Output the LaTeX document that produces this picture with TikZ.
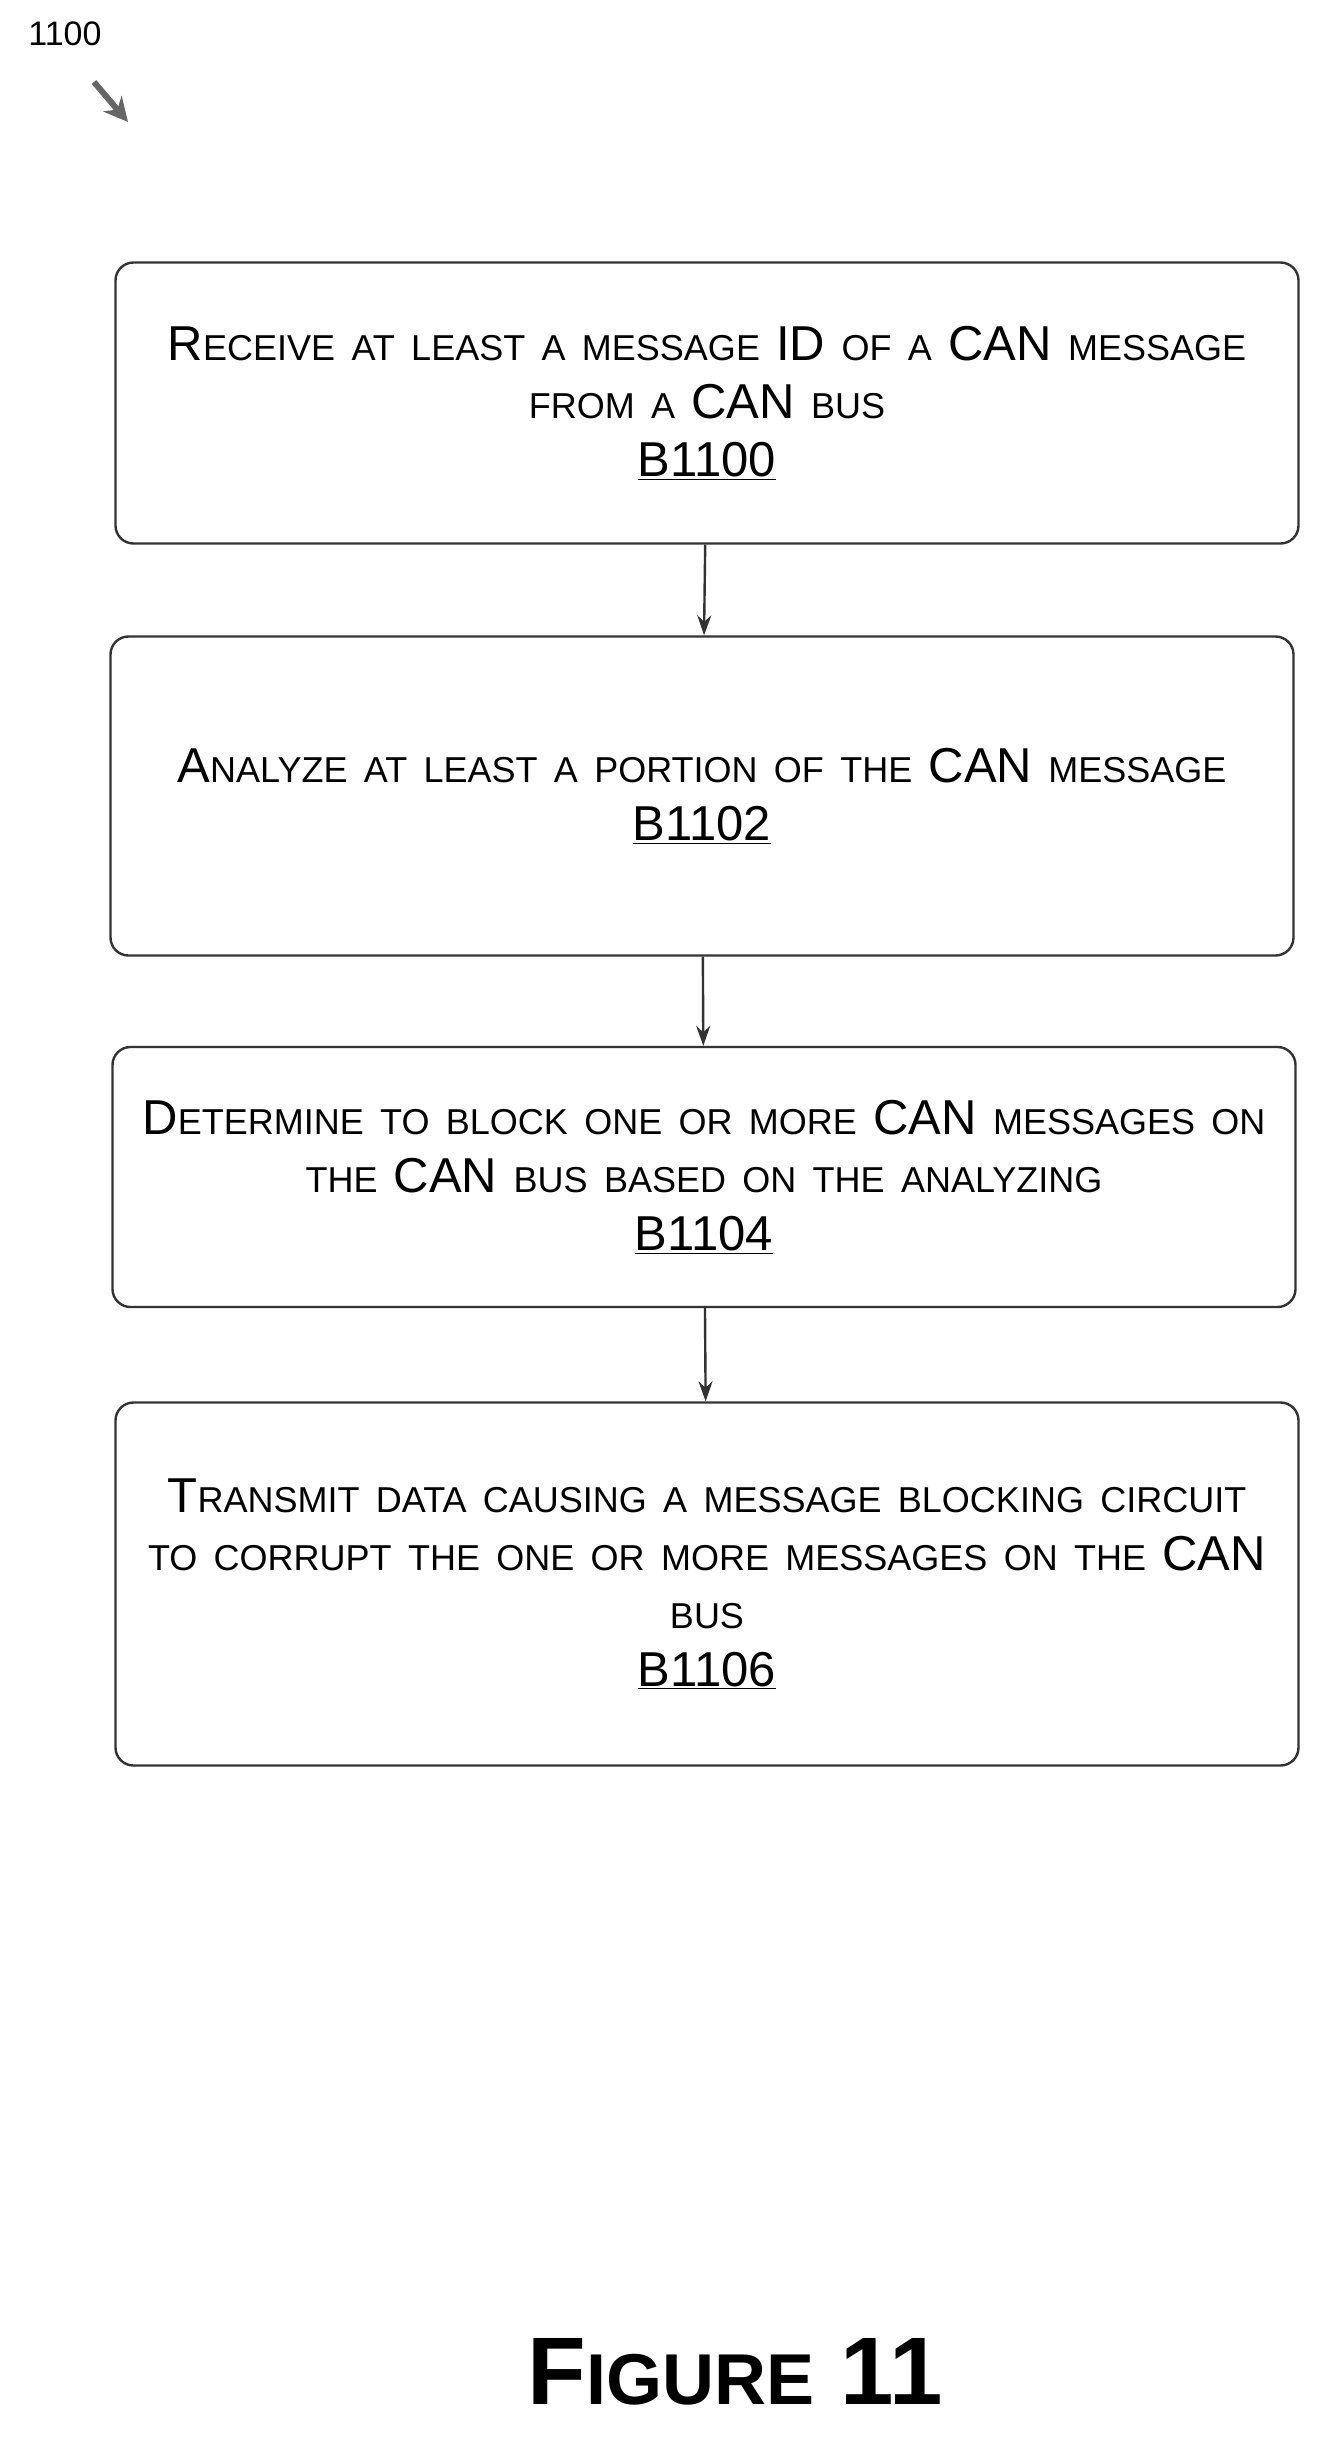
\documentclass[tikz,border=0pt]{standalone}
\usepackage{fontspec}
\setmainfont{Liberation Sans}
\usetikzlibrary{arrows.meta}
\ExplSyntaxOn
\NewDocumentCommand\fsc{O{36}m}
  {
    \str_map_inline:nn {#2}
      {
        \str_if_eq:nnTF {##1} {~} {\ }
          {
            \bool_lazy_or:nnTF
              { \int_compare_p:nNn {\char_value_uccode:n {`##1}} = {0} }
              { \int_compare_p:nNn {`##1} = {\char_value_uccode:n {`##1}} }
              {##1}
              {{\fontsize{#1}{#1}\selectfont
                \char_generate:nn {\char_value_uccode:n {`##1}} {11}}}
          }
      }
  }
\ExplSyntaxOff
\tikzset{
  blk/.style={draw=black!80, line width=2.4pt, rounded corners=18pt,
    minimum width=1183pt, align=center, text width=1170pt,
    font=\fontsize{49}{58}\selectfont},
  flow/.style={draw=black!80, line width=2.4pt, -{Stealth[length=20pt,width=14pt]}}
}
\begin{document}
\begin{tikzpicture}[x=1pt,y=-1pt]
\useasboundingbox (0,0) rectangle (1330,2439);

\node[font=\fontsize{34}{34}\selectfont] (lbl) at (65,34) {1100};
\draw[black!60, line width=6pt, -{Stealth[length=24pt,width=24pt]}] (94,82) -- (128,122);

\node[blk, minimum height=281pt] (b1) at (707,403)
  {\fsc{Receive at least a message ID of a CAN message}\\
   \fsc{from a CAN bus}\\ \underline{B1100}};
\node[blk, minimum height=319pt] (b2) at (702,796)
  {\fsc{Analyze at least a portion of the CAN message}\\ \underline{B1102}};
\node[blk, minimum height=260pt] (b3) at (704,1177)
  {\fsc{Determine to block one or more CAN messages on}\\
   \fsc{the CAN bus based on the analyzing}\\ \underline{B1104}};
\node[blk, minimum height=363pt] (b4) at (707,1584)
  {\fsc{Transmit data causing a message blocking circuit}\\
   \fsc{to corrupt the one or more messages on the CAN}\\
   \fsc{bus}\\ \underline{B1106}};

\draw[flow] (b1) -- (b2);
\draw[flow] (b2) -- (b3);
\draw[flow] (b3) -- (b4);

\node[font=\fontsize{96}{96}\selectfont\bfseries] (fig) at (735,2372) {\fsc[72]{Figure 11}};
\end{tikzpicture}
\end{document}
